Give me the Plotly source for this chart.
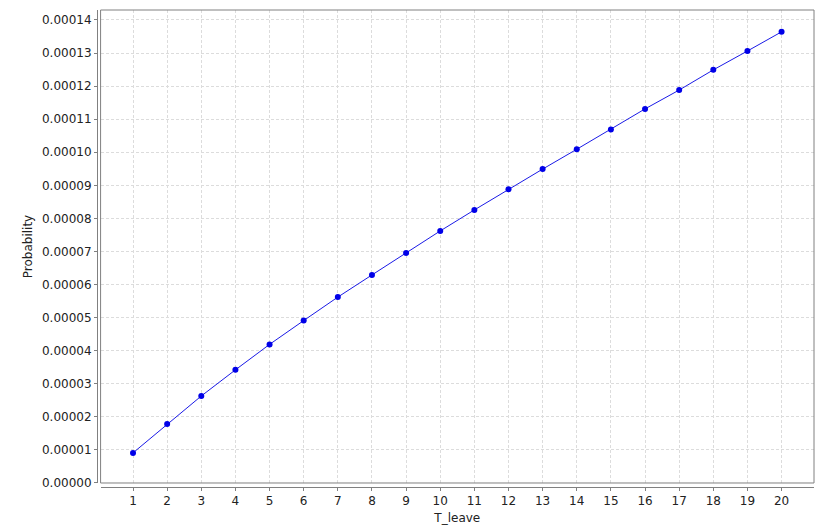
import plotly.graph_objects as go

t_leave = list(range(1, 21))
probability = [0.91e-5, 1.78e-5, 2.63e-5, 3.42e-5, 4.19e-5, 4.91e-5, 5.62e-5, 6.29e-5,
               6.955e-5, 7.62e-5, 8.255e-5, 8.88e-5, 9.49e-5, 10.09e-5, 10.69e-5,
               11.31e-5, 11.88e-5, 12.49e-5, 13.06e-5, 13.64e-5]
y_ticks = [i * 1e-5 for i in range(15)]
y_tick_text = ["%.5f" % v for v in y_ticks]

fig = go.Figure()
fig.add_trace(go.Scatter(
    x=t_leave, y=probability, mode="lines+markers",
    line=dict(color="#1a1ae6", width=1),
    marker=dict(color="#0000e8", size=6),
    showlegend=False,
))

font = dict(family="DejaVu Sans", size=12, color="#222222")
fig.update_layout(
    width=826, height=530,
    margin=dict(l=97, r=12, t=10, b=43),
    paper_bgcolor="white", plot_bgcolor="white",
    font=font,
    xaxis=dict(
        domain=[0.005, 1], anchor="free", position=0, automargin=False,
        range=[0.05, 20.95], tickmode="array", tickvals=t_leave,
        ticktext=[str(v) for v in t_leave],
        showline=True, linecolor="#808080", linewidth=1,
        ticks="outside", ticklen=3, tickcolor="#808080",
        showgrid=True, gridcolor="#dcdcdc", griddash="3px,2px", gridwidth=1,
        zeroline=False,
        title=dict(text="T_leave", standoff=6, font=font),
        tickfont=font,
    ),
    yaxis=dict(
        domain=[0.0084, 1], anchor="free", position=0, automargin=False,
        range=[0, 0.0001430], tickmode="array", tickvals=y_ticks,
        ticktext=y_tick_text,
        showline=True, linecolor="#808080", linewidth=1,
        ticks="outside", ticklen=3, tickcolor="#808080",
        showgrid=True, gridcolor="#dcdcdc", griddash="3px,2px", gridwidth=1,
        zeroline=False,
        title=dict(text="Probability", standoff=5, font=font),
        tickfont=font,
    ),
    shapes=[dict(type="rect", xref="x domain", yref="y domain",
                 x0=0, x1=1, y0=0, y1=1,
                 line=dict(color="#808080", width=1), layer="above")],
)

fig.write_html("out.html", config={"displayModeBar": False},
               post_script="document.body.style.margin='0';document.body.style.padding='0';")
